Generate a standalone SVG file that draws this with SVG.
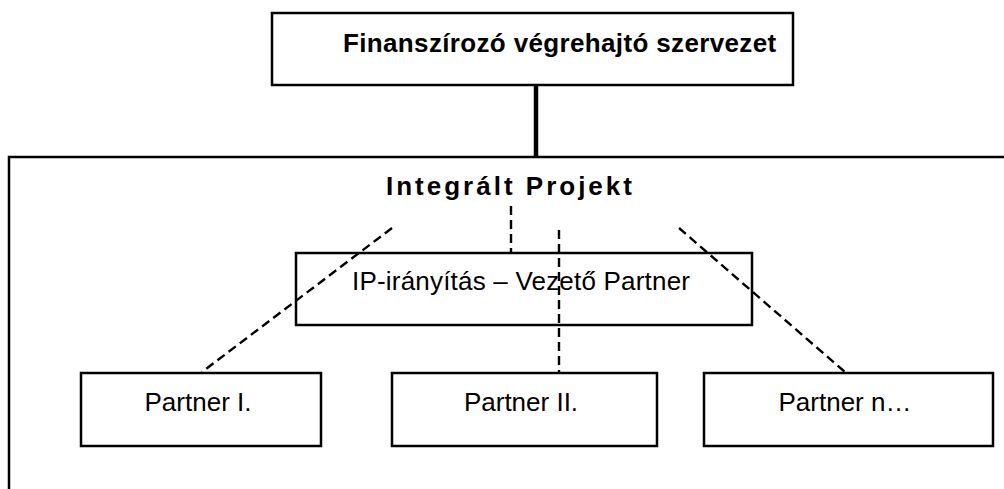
<svg xmlns="http://www.w3.org/2000/svg" width="1004" height="489" viewBox="0 0 1004 489">
  <style>
    .box { fill: #ffffff; stroke: #000000; stroke-width: 2.5; }
    .frame { fill: none; stroke: #000000; stroke-width: 2.5; }
    .dash { fill: none; stroke: #000000; stroke-width: 2.4; stroke-dasharray: 9 5; }
    .solid { fill: none; stroke: #000000; stroke-width: 4.5; }
    .bold { font-family: "Liberation Sans", Arial, sans-serif; font-weight: bold; font-size: 26px; fill: #000000; }
    .label { font-family: "Liberation Sans", Arial, sans-serif; font-size: 26px; fill: #000000; }
  </style>
  <rect width="1004" height="489" fill="#ffffff"/>

  <!-- outer project frame (open to the right and bottom) -->
  <g id="integralt-projekt">
    <path class="frame" d="M9 495 V157 H1010"/>
    <text class="bold" x="386" y="195" letter-spacing="3">Integrált Projekt</text>
  </g>

  <!-- IP management box -->
  <g id="ip-iranyitas">
    <rect class="box" x="296" y="253" width="456" height="72"/>
  </g>

  <!-- connectors -->
  <g id="connectors">
    <line class="solid" x1="536" y1="85" x2="536" y2="157"/>
    <line class="dash" x1="392" y1="228" x2="202" y2="372"/>
    <line class="dash" x1="511" y1="206" x2="511" y2="253"/>
    <line class="dash" x1="559" y1="230" x2="559" y2="372"/>
    <line class="dash" x1="679" y1="228" x2="845" y2="372"/>
  </g>

  <!-- IP label drawn over the box -->
  <text class="label" x="352" y="290" letter-spacing="0.2">IP-irányítás – Vezető Partner</text>

  <g id="finanszirozo">
    <rect class="box" x="272" y="13" width="521" height="72"/>
    <text class="bold" x="343" y="52" letter-spacing="0.35">Finanszírozó végrehajtó szervezet</text>
  </g>

  <g id="partner-1">
    <rect class="box" x="81" y="373" width="240" height="73"/>
    <text class="label" x="198" y="411" text-anchor="middle">Partner I.</text>
  </g>

  <g id="partner-2">
    <rect class="box" x="392" y="373" width="265" height="73"/>
    <text class="label" x="521" y="411" text-anchor="middle">Partner II.</text>
  </g>

  <g id="partner-n">
    <rect class="box" x="704" y="373" width="289" height="73"/>
    <text class="label" x="845" y="411" text-anchor="middle">Partner n…</text>
  </g>
</svg>
